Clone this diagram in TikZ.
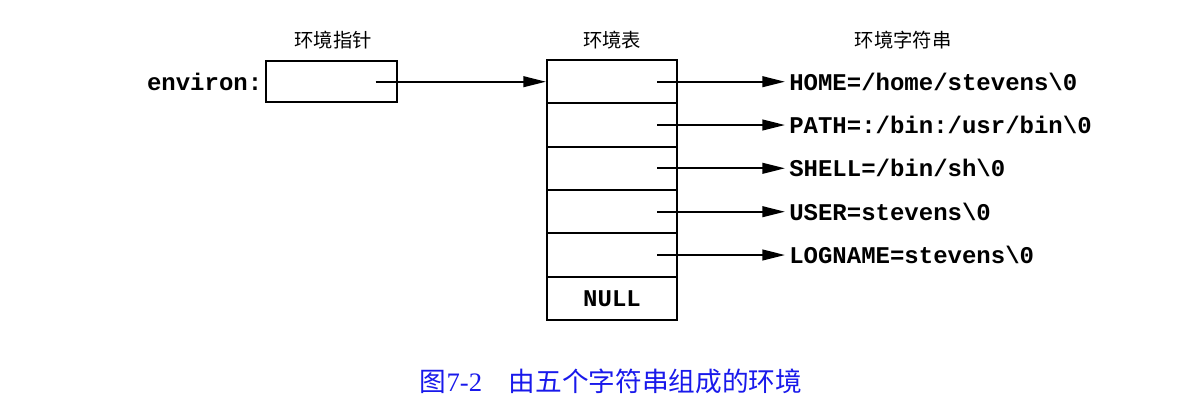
\documentclass[tikz,border=0pt]{standalone}
\usepackage{fontspec}
\setmainfont{Liberation Serif}
\setmonofont{Liberation Mono}
\newfontfamily\cjk{Noto Sans CJK SC}
\usetikzlibrary{arrows.meta}
\definecolor{capblue}{RGB}{25,25,235}
\begin{document}
\begin{tikzpicture}[x=0.75pt,y=-0.75pt,
  box/.style={draw, line width=1.5pt, minimum width=97.5pt, minimum height=32.5pt, inner sep=0pt},
  pbox/.style={draw, line width=1.5pt, minimum width=98pt, minimum height=30.75pt, inner sep=0pt},
  arr/.style={line width=1.5pt, -{Triangle[length=17pt,width=8pt]}},
  str/.style={anchor=west, inner xsep=3pt, inner ysep=0pt, font=\ttfamily\bfseries\fontsize{18}{20}\selectfont},
  head/.style={font=\cjk\fontsize{14.5}{16}\selectfont}
]
\useasboundingbox (0,0) rectangle (1204,419);
% headings
\node[head] (h1) at (333,40) {环境指针};
\node[head] (h2) at (612,40) {环境表};
\node[head] (h3) at (903,40) {环境字符串};
% pointer
\node[pbox] (pb) at (331.5,81.7) {};
\node[str, anchor=east, inner xsep=2pt] (env) at (pb.west) {environ:};
% table
\node[box] (c1) at (612,81.7) {};
\node[box] (c2) at (612,125) {};
\node[box] (c3) at (612,168.3) {};
\node[box] (c4) at (612,211.7) {};
\node[box] (c5) at (612,255) {};
\node[box, font=\ttfamily\bfseries\fontsize{18}{20}\selectfont] (c6) at (612,298.3) {NULL};
% strings
\node[str] (s1) at (785,81.7) {HOME=/home/stevens\textbackslash 0};
\node[str] (s2) at (785,125) {PATH=:/bin:/usr/bin\textbackslash 0};
\node[str] (s3) at (785,168.3) {SHELL=/bin/sh\textbackslash 0};
\node[str] (s4) at (785,211.7) {USER=stevens\textbackslash 0};
\node[str] (s5) at (785,255) {LOGNAME=stevens\textbackslash 0};
% arrows
\draw[arr] ([xshift=33pt]pb.center) -- (c1.west);
\foreach \i in {1,...,5}{
  \draw[arr] ([xshift=33.75pt]c\i.center) -- (s\i.west);
}
% caption
\node[text=capblue, font=\fontsize{20}{22}\selectfont] (cap) at (611,381)
  {{\cjk 图}7-2\hspace{1em}{\cjk 由五个字符串组成的环境}};
\end{tikzpicture}
\end{document}
